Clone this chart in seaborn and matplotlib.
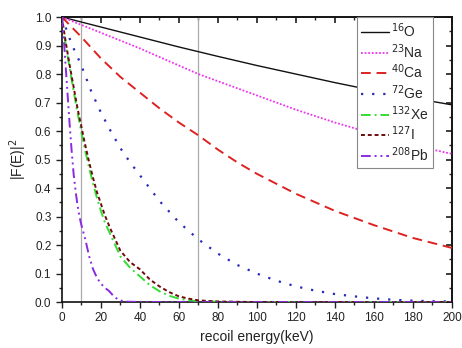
"""Nuclear form factors |F(E)|^2 versus recoil energy."""

import matplotlib.pyplot as plt
import seaborn as sns
from matplotlib.ticker import MultipleLocator

# values
E_O = [0, 20, 40, 60, 80, 100, 120, 140, 160, 180, 200]
F_O = [1.0, 0.965, 0.93, 0.895, 0.862, 0.83, 0.80, 0.77, 0.742, 0.716, 0.692]

E_NA = [0, 20, 40, 60, 70, 80, 100, 120, 140, 160, 180, 200]
F_NA = [1.0, 0.945, 0.89, 0.83, 0.80, 0.775, 0.725, 0.675, 0.63, 0.59, 0.55, 0.52]

E_CA = [0, 10, 20, 30, 40, 50, 60, 70, 80, 90, 100, 120, 140, 160, 180, 200]
F_CA = [1.0, 0.93, 0.855, 0.79, 0.735, 0.68, 0.63, 0.585, 0.535, 0.49, 0.45,
        0.38, 0.32, 0.27, 0.225, 0.19]

E_GE = [0, 5, 10, 15, 20, 25, 30, 35, 40, 50, 60, 70, 80, 90, 100, 110, 120,
        130, 140, 150, 160, 170, 180, 190, 200]
F_GE = [1.0, 0.905, 0.83, 0.74, 0.665, 0.60, 0.54, 0.49, 0.445, 0.355, 0.28,
        0.22, 0.17, 0.13, 0.10, 0.075, 0.055, 0.04, 0.028, 0.02, 0.013, 0.008,
        0.005, 0.003, 0.002]

E_XE = [0, 2, 4, 6, 8, 10, 12, 14, 16, 18, 20, 22, 25, 30, 35, 40, 45, 50, 55,
        60, 65, 70, 80, 100, 200]
F_XE = [1.0, 0.90, 0.82, 0.74, 0.665, 0.595, 0.53, 0.47, 0.415, 0.365, 0.32,
        0.28, 0.235, 0.16, 0.12, 0.09, 0.06, 0.038, 0.022, 0.012, 0.006, 0.003,
        0.001, 0.0, 0.0]

E_I = [0, 2, 4, 6, 8, 10, 12, 14, 16, 18, 20, 22, 25, 30, 35, 40, 45, 50, 55,
       60, 65, 70, 80, 100, 200]
F_I = [1.0, 0.91, 0.83, 0.755, 0.68, 0.615, 0.55, 0.49, 0.435, 0.385, 0.345,
       0.305, 0.255, 0.18, 0.14, 0.115, 0.08, 0.055, 0.035, 0.02, 0.012, 0.006,
       0.002, 0.0, 0.0]

E_PB = [0, 1, 2, 3, 4, 5, 6, 7, 8, 9, 10, 11, 12, 14, 16, 18, 20, 22, 24, 26,
        28, 30, 32, 35, 50, 200]
F_PB = [1.0, 0.92, 0.82, 0.72, 0.62, 0.53, 0.45, 0.39, 0.34, 0.30, 0.27, 0.245,
        0.22, 0.16, 0.115, 0.085, 0.065, 0.05, 0.04, 0.025, 0.013, 0.006, 0.002,
        0.001, 0.0, 0.0]

SERIES = [
    ("$^{16}$O", E_O, F_O, "#111111", "-", 1.0),
    ("$^{23}$Na", E_NA, F_NA, "#ee33ee", (0, (1, 1)), 1.3),
    ("$^{40}$Ca", E_CA, F_CA, "#dd2222", (0, (5, 3)), 1.4),
    ("$^{72}$Ge", E_GE, F_GE, "#2a2ab5", (0, (1, 4)), 1.6),
    ("$^{132}$Xe", E_XE, F_XE, "#33dd33", (0, (5, 2, 1, 2)), 1.4),
    ("$^{127}$I", E_I, F_I, "#6e0a0a", (0, (2, 1.5)), 1.4),
    ("$^{208}$Pb", E_PB, F_PB, "#8a2be2", (0, (5, 2, 1, 2, 1, 2)), 1.4),
]

MARK_E = [10, 70]


def main() -> None:
    sns.set_theme(style="ticks")
    plt.rcParams["font.family"] = ["Liberation Sans", "DejaVu Sans"]

    fig = plt.figure(figsize=(4.62, 3.48), dpi=100)
    ax = fig.add_axes([0.134, 0.132, 0.844, 0.819])

    for e in MARK_E:
        ax.axvline(e, color="#aaaaaa", lw=0.9, zorder=1)

    for label, x, y, color, ls, lw in SERIES:
        sns.lineplot(x=x, y=y, ax=ax, color=color, linestyle=ls, lw=lw,
                     label=label, zorder=3)

    ax.set_xlim(0, 200)
    ax.set_ylim(0, 1.0)
    ax.xaxis.set_major_locator(MultipleLocator(20))
    ax.xaxis.set_minor_locator(MultipleLocator(10))
    ax.yaxis.set_major_locator(MultipleLocator(0.1))
    ax.yaxis.set_minor_locator(MultipleLocator(0.05))
    ax.yaxis.set_major_formatter(lambda v, p: f"{v:.1f}")

    ax.tick_params(which="both", direction="out", top=False, right=False,
                   labelsize=8.5, colors="#222222", width=1.0)
    ax.tick_params(which="major", length=4)
    ax.tick_params(which="minor", length=2.5)
    sec_x = ax.secondary_xaxis("top")
    sec_x.xaxis.set_major_locator(MultipleLocator(20))
    sec_x.xaxis.set_minor_locator(MultipleLocator(10))
    sec_x.tick_params(which="both", direction="in", labeltop=False)
    sec_x.tick_params(which="major", length=4)
    sec_x.tick_params(which="minor", length=2.5)
    sec_y = ax.secondary_yaxis("right")
    sec_y.yaxis.set_major_locator(MultipleLocator(0.1))
    sec_y.yaxis.set_minor_locator(MultipleLocator(0.05))
    sec_y.tick_params(which="both", direction="in", labelright=False)
    sec_y.tick_params(which="major", length=4)
    sec_y.tick_params(which="minor", length=2.5)
    for sp in ax.spines.values():
        sp.set_color("#111111")
        sp.set_linewidth(1.2)

    ax.set_xlabel("recoil energy(keV)", fontsize=10, color="#222222")
    ax.set_ylabel("|F(E)|$^2$", fontsize=10, color="#222222")

    leg = ax.legend(loc="upper right", bbox_to_anchor=(0.952, 1.0),
                    borderaxespad=0, fontsize=10, handlelength=2.0,
                    handletextpad=0.2, labelspacing=0.15, fancybox=False,
                    framealpha=1, edgecolor="#888888", borderpad=0.3)
    leg.get_frame().set_linewidth(0.8)

    fig.savefig("out.png", dpi=100)
    plt.close(fig)


if __name__ == "__main__":
    main()
